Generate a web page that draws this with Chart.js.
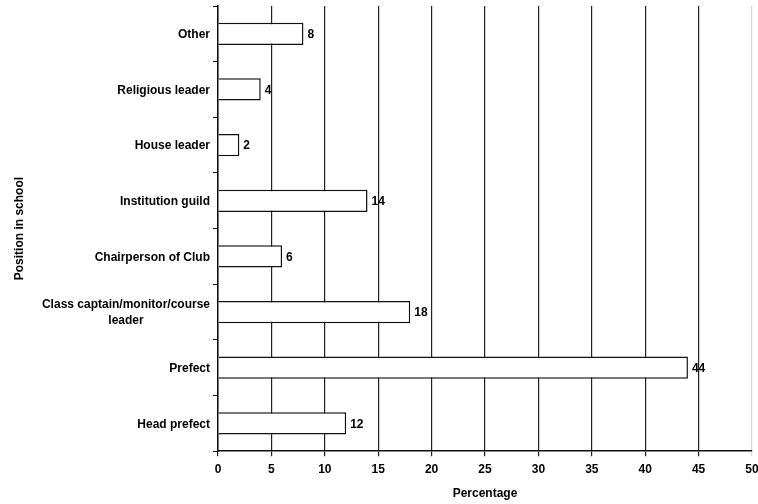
<!DOCTYPE html>
<html>
<head>
<meta charset="utf-8">
<script src="https://cdn.jsdelivr.net/npm/chart.js@4"></script>
<style>
    html, body { margin: 0; padding: 0; background: #ffffff; }
    #wrap { width: 758px; height: 504px; }
</style>
</head>
<body>
<div id="wrap"><canvas id="positionChart" width="758" height="504"></canvas></div>
<script>
const categories = [
    'Other',
    'Religious leader',
    'House leader',
    'Institution guild',
    'Chairperson of Club',
    ['Class captain/monitor/course', 'leader'],
    'Prefect',
    'Head prefect'
];
const percentages = [8, 4, 2, 14, 6, 18, 44, 12];
const xTicks = [0, 5, 10, 15, 20, 25, 30, 35, 40, 45, 50];

const boldFont = { family: '"Liberation Sans", Arial, sans-serif', size: 12, weight: 'bold' };
const fontStr = 'bold 12px "Liberation Sans", Arial, sans-serif';

// category labels + value labels drawn by hand (multi-line label is centred)
const labelPlugin = {
    id: 'labelPlugin',
    afterDraw(chart) {
        const ctx = chart.ctx;
        const yScale = chart.scales.y;
        const meta = chart.getDatasetMeta(0);
        ctx.save();
        ctx.font = fontStr;
        ctx.fillStyle = '#000';
        ctx.textBaseline = 'middle';
        categories.forEach((lab, i) => {
            const y = yScale.getPixelForValue(i) + 1;
            const right = chart.chartArea.left - 8;
            if (Array.isArray(lab)) {
                const w = Math.max(...lab.map(l => ctx.measureText(l).width));
                ctx.textAlign = 'center';
                lab.forEach((l, j) => {
                    ctx.fillText(l, right - w / 2, y + (j - (lab.length - 1) / 2) * 16);
                });
            } else {
                ctx.textAlign = 'right';
                ctx.fillText(lab, right, y);
            }
        });
        ctx.textAlign = 'left';
        meta.data.forEach((bar, i) => {
            ctx.fillText(String(percentages[i]), bar.x + 4, bar.y + 1);
        });
        ctx.restore();
    }
};

new Chart(document.getElementById('positionChart').getContext('2d'), {
    type: 'bar',
    data: {
        labels: categories,
        datasets: [{
            data: percentages,
            backgroundColor: '#ffffff',
            borderColor: '#111111',
            borderWidth: 1.5,
            categoryPercentage: 1,
            barPercentage: 0.4
        }]
    },
    options: {
        indexAxis: 'y',
        responsive: false,
        animation: false,
        layout: { padding: { top: 6, right: 0, bottom: 3, left: 2 } },
        plugins: {
            legend: { display: false },
            tooltip: { enabled: false }
        },
        scales: {
            x: {
                min: 0,
                max: 50,
                afterBuildTicks: (scale) => { scale.ticks = xTicks.map(v => ({ value: v })); },
                afterFit: (scale) => { scale.paddingRight = 6; },
                grid: {
                    color: (c) => (c.tick && c.tick.value === 50 ? '#d8d8d8' : '#222'),
                    lineWidth: 1.2,
                    tickLength: 5
                },
                border: { color: '#111', width: 1.5 },
                ticks: { color: '#000', font: boldFont, padding: 6 },
                title: { display: true, text: 'Percentage', color: '#000', font: boldFont, padding: { top: 4, bottom: 0 } }
            },
            y: {
                grid: { display: true, drawOnChartArea: false, color: '#111', tickLength: 5, offset: true },
                border: { color: '#111', width: 1.5 },
                ticks: { display: false },
                title: { display: true, text: 'Position in school', color: '#000', font: boldFont, padding: { top: 10, bottom: 0 } },
                afterFit: (scale) => { scale.width = 216; }
            }
        }
    },
    plugins: [labelPlugin]
});
</script>
</body>
</html>
